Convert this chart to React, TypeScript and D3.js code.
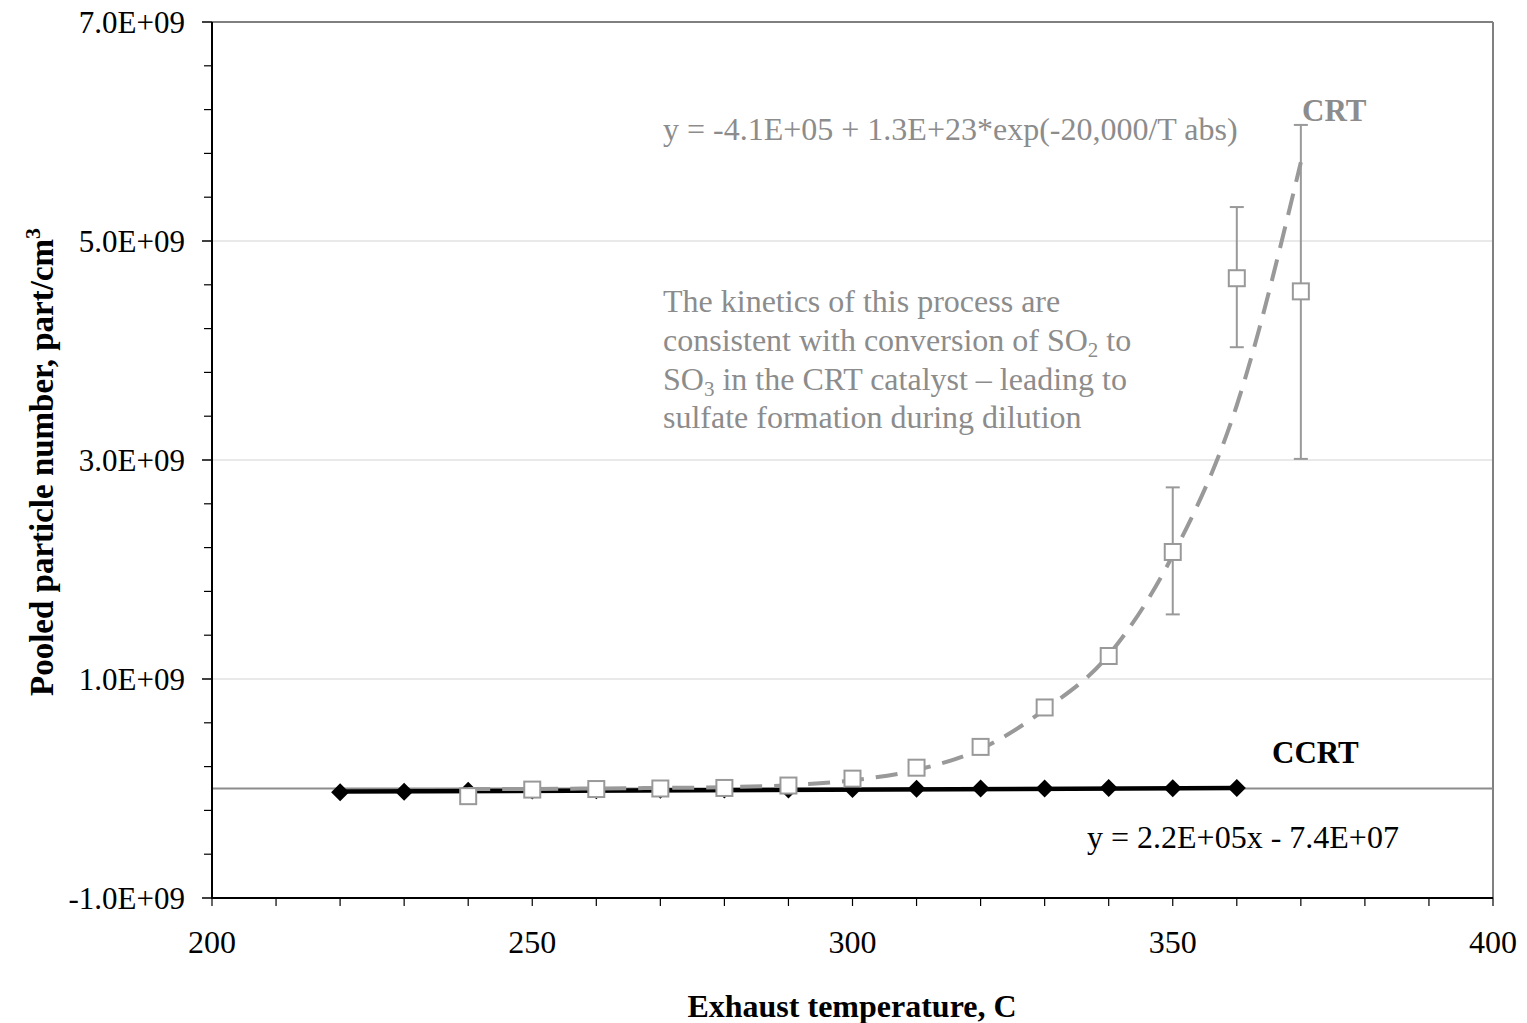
import { scaleLinear, line as d3Line, curveMonotoneX, range } from "d3";

// CCRT (filled diamonds, black)
const ccrtTemps = [220, 230, 240, 250, 260, 270, 280, 290, 300, 310, 320, 330, 340, 350, 360];
const ccrtValues = [-0.035e9, -0.03e9, -0.02e9, -0.018e9, -0.015e9, -0.012e9, -0.01e9, -0.008e9, -0.005e9, -0.003e9, 0.0, 0.0, 0.005e9, 0.003e9, 0.005e9];
// linear trend for CCRT, read at its ends
const ccrtFitTemps = [220, 360];
const ccrtFitValues = [-0.028e9, 0.004e9];

// CRT (open squares, grey)
const crtTemps = [240, 250, 260, 270, 280, 290, 300, 310, 320, 330, 340, 350, 360, 370];
const crtValues = [-0.07e9, -0.01e9, -0.005e9, 0.0, 0.005e9, 0.027e9, 0.09e9, 0.19e9, 0.38e9, 0.74e9, 1.21e9, 2.16e9, 4.66e9, 4.54e9];
const crtErrTemps = [350, 360, 370];
const crtErrLow = [1.59e9, 4.03e9, 3.01e9];
const crtErrHigh = [2.75e9, 5.31e9, 6.06e9];
// exponential fit for CRT
const crtFitTemps = [240, 250, 260, 270, 280, 290, 300, 310, 320, 330, 340, 350, 360, 370];
const crtFitValues = [-0.005e9, -0.004e9, 0.0, 0.005e9, 0.012e9, 0.03e9, 0.075e9, 0.17e9, 0.36e9, 0.72e9, 1.22e9, 2.13e9, 3.5e9, 5.72e9];

const xTicks = [200, 250, 300, 350, 400];
const yTicks = [-1e9, 1e9, 3e9, 5e9, 7e9];
const yTickLabels = ["-1.0E+09", "1.0E+09", "3.0E+09", "5.0E+09", "7.0E+09"];

const W = 1527;
const H = 1023;
const left = 212;
const right = 1493;
const top = 22;
const bottom = 898;

const font = "'Liberation Serif', 'Times New Roman', serif";
const grey = "#999999";
const greyText = "#8c8c8c";

export default function App() {
  const x = scaleLinear().domain([200, 400]).range([left, right]);
  const y = scaleLinear().domain([-1e9, 7e9]).range([bottom, top]);

  const crtFit = d3Line<[number, number]>()
    .x((d) => x(d[0]))
    .y((d) => y(d[1]))
    .curve(curveMonotoneX)(crtFitTemps.map((t, i) => [t, crtFitValues[i]]))!;
  const ccrtFit = d3Line<[number, number]>()
    .x((d) => x(d[0]))
    .y((d) => y(d[1]))(ccrtFitTemps.map((t, i) => [t, ccrtFitValues[i]]))!;

  const yMinor = range(-1e9, 7e9 + 1, 0.4e9).filter((v) => !yTicks.some((t) => Math.abs(t - v) < 1));
  const xMinor = range(200, 401, 10);

  const sq = 16;
  const dm = 9;

  return (
    <div style={{ position: "absolute", left: 0, top: 0 }}>
      <svg width={W} height={H} style={{ display: "block", background: "#fff" }} fontFamily={font}>
        {/* gridlines */}
        {yTicks.slice(1, 4).map((v) => (
          <line key={"g" + v} x1={left} x2={right} y1={y(v)} y2={y(v)} stroke="#d4d4d4" strokeWidth={1.2} />
        ))}
        {/* frame */}
        <line x1={left} x2={right} y1={top} y2={top} stroke="#808080" strokeWidth={2} />
        <line x1={right} x2={right} y1={top} y2={bottom} stroke="#808080" strokeWidth={2} />
        {/* zero line */}
        <line x1={left} x2={right} y1={y(0)} y2={y(0)} stroke="#8c8c8c" strokeWidth={2} />

        {/* axes */}
        <line x1={left} x2={left} y1={top} y2={bottom + 1} stroke="#000" strokeWidth={2} />
        <line x1={left - 1} x2={right} y1={bottom} y2={bottom} stroke="#000" strokeWidth={2} />
        {yTicks.map((v) => (
          <line key={"yt" + v} x1={left - 10} x2={left} y1={y(v)} y2={y(v)} stroke="#000" strokeWidth={1.5} />
        ))}
        {yMinor.map((v) => (
          <line key={"ym" + v} x1={left - 8} x2={left} y1={y(v)} y2={y(v)} stroke="#000" strokeWidth={1.2} />
        ))}
        {xMinor.map((v) => (
          <line key={"xm" + v} x1={x(v)} x2={x(v)} y1={bottom} y2={bottom + 8} stroke="#000" strokeWidth={1.2} />
        ))}
        {yTicks.map((v, i) => (
          <text key={"yl" + v} x={left - 27} y={y(v)} dy="0.35em" textAnchor="end" fontSize={31}>
            {yTickLabels[i]}
          </text>
        ))}
        {xTicks.map((v) => (
          <text key={"xl" + v} x={x(v)} y={953} textAnchor="middle" fontSize={32}>
            {v}
          </text>
        ))}

        {/* axis titles */}
        <text x={852} y={1017} textAnchor="middle" fontSize={32} fontWeight="bold">
          Exhaust temperature, C
        </text>
        <text transform="translate(53, 462) rotate(-90)" textAnchor="middle" fontSize={33} fontWeight="bold">
          Pooled particle number, part/cm
          <tspan fontSize={22} dy={-13}>3</tspan>
        </text>

        {/* CCRT series */}
        <path d={ccrtFit} fill="none" stroke="#000" strokeWidth={4.5} />
        {ccrtTemps.map((t, i) => {
          const cx = x(t);
          const cy = y(ccrtValues[i]);
          return (
            <path
              key={"cc" + t}
              d={`M${cx},${cy - dm}L${cx + dm},${cy}L${cx},${cy + dm}L${cx - dm},${cy}Z`}
              fill="#000"
            />
          );
        })}

        {/* CRT series */}
        <path d={crtFit} fill="none" stroke={grey} strokeWidth={4} strokeDasharray="22 12" />
        {crtErrTemps.map((t, i) => (
          <g key={"e" + t} stroke={grey} strokeWidth={2}>
            <line x1={x(t)} x2={x(t)} y1={y(crtErrLow[i])} y2={y(crtErrHigh[i])} />
            <line x1={x(t) - 7} x2={x(t) + 7} y1={y(crtErrLow[i])} y2={y(crtErrLow[i])} />
            <line x1={x(t) - 7} x2={x(t) + 7} y1={y(crtErrHigh[i])} y2={y(crtErrHigh[i])} />
          </g>
        ))}
        {crtTemps.map((t, i) => (
          <rect
            key={"cr" + t}
            x={x(t) - sq / 2}
            y={y(crtValues[i]) - sq / 2}
            width={sq}
            height={sq}
            fill="#fff"
            stroke={grey}
            strokeWidth={2}
          />
        ))}

        {/* annotations */}
        <text x={1302} y={121} fontSize={31} fontWeight="bold" fill={greyText}>
          CRT
        </text>
        <text x={663} y={140} fontSize={32} fill={greyText}>
          y = -4.1E+05 + 1.3E+23*exp(-20,000/T abs)
        </text>
        <g fontSize={32} fill={greyText}>
          <text x={663} y={312}>The kinetics of this process are</text>
          <text x={663} y={351}>
            consistent with conversion of SO<tspan fontSize={21} dy={6}>2</tspan>
            <tspan dy={-6}> to</tspan>
          </text>
          <text x={663} y={390}>
            SO<tspan fontSize={21} dy={6}>3</tspan>
            <tspan dy={-6}> in the CRT catalyst – leading to</tspan>
          </text>
          <text x={663} y={428}>sulfate formation during dilution</text>
        </g>
        <text x={1272} y={763} fontSize={31} fontWeight="bold" fill="#000">
          CCRT
        </text>
        <text x={1087} y={848} fontSize={32} fill="#000">
          y = 2.2E+05x - 7.4E+07
        </text>
      </svg>
    </div>
  );
}
